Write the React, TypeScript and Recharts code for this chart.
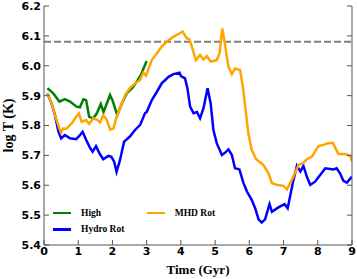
import React from "react";
import { LineChart, Line, XAxis, YAxis, ReferenceLine, Legend, Label } from "recharts";

// Time (Gyr) and log T (K)
const highTime = [0.1, 0.27, 0.45, 0.61, 0.76, 0.95, 1.05, 1.15, 1.23, 1.32, 1.44, 1.54, 1.66, 1.74, 1.93, 2.0, 2.14, 2.3, 2.42, 2.6, 2.71, 2.83, 3.0];
const highLogT = [5.925, 5.908, 5.88, 5.888, 5.88, 5.863, 5.861, 5.888, 5.885, 5.829, 5.824, 5.84, 5.872, 5.845, 5.902, 5.885, 5.835, 5.88, 5.908, 5.928, 5.947, 5.969, 6.016];

const hydroTime = [0.1, 0.22, 0.32, 0.42, 0.5, 0.61, 0.76, 0.94, 1.05, 1.13, 1.23, 1.35, 1.42, 1.52, 1.62, 1.73, 1.88, 1.97, 2.05, 2.12, 2.22, 2.34, 2.51, 2.66, 2.81, 2.95, 3.0, 3.15, 3.3, 3.44, 3.64, 3.78, 3.96, 4.0, 4.12, 4.19, 4.27, 4.37, 4.47, 4.56, 4.66, 4.78, 4.87, 4.95, 5.05, 5.2, 5.3, 5.39, 5.49, 5.58, 5.71, 5.83, 5.93, 6.07, 6.17, 6.27, 6.36, 6.46, 6.59, 6.66, 6.85, 7.03, 7.12, 7.19, 7.29, 7.39, 7.49, 7.58, 7.68, 7.78, 7.92, 8.07, 8.22, 8.46, 8.55, 8.65, 8.75, 8.85, 9.0];
const hydroLogT = [5.908, 5.874, 5.835, 5.78, 5.757, 5.768, 5.757, 5.754, 5.768, 5.779, 5.752, 5.724, 5.712, 5.731, 5.707, 5.687, 5.698, 5.695, 5.679, 5.645, 5.684, 5.746, 5.763, 5.785, 5.802, 5.841, 5.845, 5.885, 5.913, 5.941, 5.963, 5.972, 5.977, 5.965, 5.958, 5.925, 5.863, 5.841, 5.845, 5.824, 5.858, 5.925, 5.874, 5.785, 5.74, 5.701, 5.71, 5.72, 5.701, 5.657, 5.653, 5.607, 5.579, 5.551, 5.523, 5.486, 5.475, 5.486, 5.537, 5.511, 5.526, 5.537, 5.523, 5.562, 5.618, 5.665, 5.646, 5.665, 5.629, 5.601, 5.612, 5.634, 5.657, 5.653, 5.657, 5.64, 5.615, 5.609, 5.629];

const mhdTime = [0.1, 0.22, 0.32, 0.45, 0.5, 0.56, 0.65, 0.81, 0.91, 1.02, 1.1, 1.23, 1.32, 1.44, 1.54, 1.64, 1.73, 1.83, 1.93, 2.03, 2.12, 2.24, 2.37, 2.51, 2.66, 2.8, 2.9, 2.98, 3.15, 3.3, 3.44, 3.59, 3.78, 3.88, 4.05, 4.17, 4.25, 4.32, 4.44, 4.56, 4.66, 4.76, 4.87, 5.05, 5.13, 5.21, 5.29, 5.39, 5.49, 5.58, 5.73, 5.81, 5.88, 5.97, 6.07, 6.2, 6.41, 6.56, 6.66, 6.82, 7.0, 7.1, 7.24, 7.44, 7.58, 7.68, 7.83, 8.02, 8.17, 8.27, 8.44, 8.6, 8.8, 8.95, 9.0];
const mhdLogT = [5.908, 5.874, 5.835, 5.79, 5.776, 5.79, 5.789, 5.807, 5.824, 5.84, 5.812, 5.818, 5.805, 5.824, 5.82, 5.81, 5.835, 5.82, 5.787, 5.79, 5.829, 5.863, 5.902, 5.925, 5.941, 5.952, 5.977, 5.967, 6.019, 6.042, 6.064, 6.081, 6.097, 6.103, 6.114, 6.092, 6.088, 6.064, 6.019, 6.036, 6.021, 6.032, 6.014, 6.019, 6.042, 6.125, 6.069, 5.997, 5.972, 5.991, 5.986, 5.93, 5.863, 5.774, 5.718, 5.687, 5.668, 5.64, 5.607, 5.601, 5.598, 5.586, 5.618, 5.668, 5.675, 5.687, 5.696, 5.731, 5.735, 5.74, 5.742, 5.705, 5.705, 5.698, 5.68];

const xTicks = [0, 1, 2, 3, 4, 5, 6, 7, 8, 9];
const yTicks = [5.4, 5.5, 5.6, 5.7, 5.8, 5.9, 6.0, 6.1, 6.2];
const thresholdLogT = 6.08;

const toPoints = (ts: number[], vs: number[]) => ts.map((t, i) => ({ time: t, logT: vs[i] }));

const series = [
  { name: "High", color: "#008000", data: toPoints(highTime, highLogT) },
  { name: "Hydro Rot", color: "#0000ff", data: toPoints(hydroTime, hydroLogT) },
  { name: "MHD Rot", color: "#ffa500", data: toPoints(mhdTime, mhdLogT) },
];

const frame = "#555";
const tickFont = { fill: "#000", fontSize: 11, fontWeight: "bold", fontFamily: "DejaVu Sans" };
const titleFont: React.CSSProperties = { fontFamily: "Liberation Serif", fontWeight: "bold", fill: "#000" };

const XTitle = (props: any) => {
  const { x, y, width, height } = props.viewBox;
  return (
    <text x={x + width / 2} y={y + height - 5} textAnchor="middle" style={{ ...titleFont, fontSize: 13 }}>
      Time (Gyr)
    </text>
  );
};

const YTitle = (props: any) => {
  const { y, height } = props.viewBox;
  const cx = 13;
  const cy = y + height / 2;
  return (
    <text x={cx} y={cy} textAnchor="middle" transform={`rotate(-90, ${cx}, ${cy})`} style={{ ...titleFont, fontSize: 14 }}>
      log T (K)
    </text>
  );
};

// matplotlib-style legend: two columns, filled column-wise
const renderLegend = () => (
  <div style={{ position: "relative", width: 200, height: 34 }}>
    {series.map((s, i) => (
      <div
        key={s.name}
        style={{
          position: "absolute",
          left: i < 2 ? 0 : 93.7,
          top: i === 1 ? 16.3 : 0,
          height: 16,
          display: "flex",
          alignItems: "center",
          whiteSpace: "nowrap",
        }}
      >
        <span style={{ display: "inline-block", width: 18, height: 2.5, background: s.color }} />
        <span style={{ marginLeft: 10, font: 'bold 9.5px "Liberation Serif"', color: "#000" }}>{s.name}</span>
      </div>
    ))}
  </div>
);

export default function App() {
  return (
    <div style={{ position: "absolute", left: 0, top: 0, background: "#fff" }}>
      <LineChart width={357} height={279} margin={{ top: 6, right: 0, bottom: 0, left: 0 }}>
        <XAxis
          dataKey="time"
          type="number"
          domain={[0, 9]}
          ticks={xTicks}
          allowDataOverflow
          height={34}
          tickSize={-5}
          tickMargin={7}
          axisLine={{ stroke: frame }}
          tickLine={{ stroke: frame }}
          tick={tickFont}
        >
          <Label content={XTitle} />
        </XAxis>
        <XAxis
          xAxisId="top"
          orientation="top"
          type="number"
          domain={[0, 9]}
          ticks={xTicks}
          allowDataOverflow
          height={0}
          tickSize={-5}
          tickFormatter={() => ""}
          axisLine={{ stroke: frame }}
          tickLine={{ stroke: frame }}
        />
        <YAxis
          type="number"
          domain={[5.4, 6.2]}
          ticks={yTicks}
          allowDataOverflow
          width={44}
          tickSize={-5}
          tickMargin={8}
          tickFormatter={(v: number) => v.toFixed(1)}
          axisLine={{ stroke: frame }}
          tickLine={{ stroke: frame }}
          tick={tickFont}
        >
          <Label content={YTitle} />
        </YAxis>
        <YAxis
          yAxisId="right"
          orientation="right"
          type="number"
          domain={[5.4, 6.2]}
          ticks={yTicks}
          allowDataOverflow
          width={5}
          tickSize={-5}
          tickFormatter={() => ""}
          axisLine={{ stroke: frame }}
          tickLine={{ stroke: frame }}
        />
        <ReferenceLine y={thresholdLogT} stroke="#808080" strokeWidth={2} strokeDasharray="7 3" />
        {series.map((s) => (
          <Line
            key={s.name}
            data={s.data}
            dataKey="logT"
            name={s.name}
            type="linear"
            stroke={s.color}
            strokeWidth={2.5}
            dot={false}
            activeDot={false}
            isAnimationActive={false}
          />
        ))}
        <Legend
          layout="horizontal"
          verticalAlign="middle"
          align="center"
          content={renderLegend}
          wrapperStyle={{ left: 53, top: 205, width: 200, height: 34 }}
        />
      </LineChart>
    </div>
  );
}
